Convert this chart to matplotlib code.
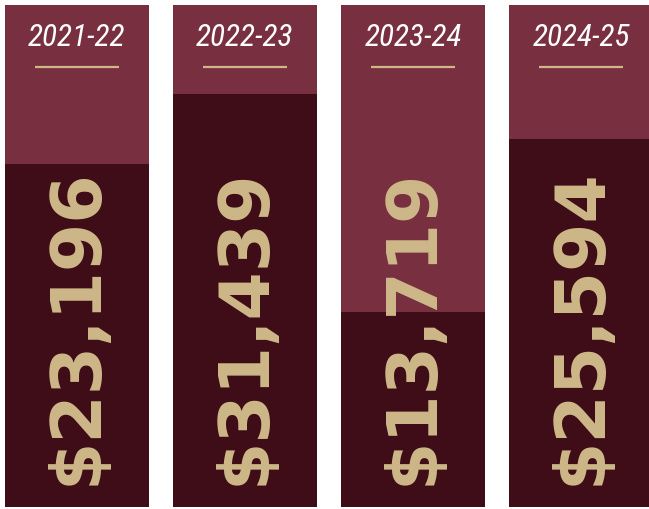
import matplotlib
matplotlib.use("Agg")
import matplotlib.pyplot as plt
from matplotlib import font_manager

# data
seasons = ["2021-22", "2022-23", "2023-24", "2024-25"]
amounts = [23196, 31439, 13719, 25594]
# filled share of each column (not proportional to the amounts)
fill_share = [0.683, 0.823, 0.388, 0.733]

garnet = "#782F40"
dark = "#3E0D17"
gold = "#CEB888"

# narrow font for the season labels, whichever is installed
names = {f.name for f in font_manager.fontManager.ttflist}
title_font, title_size = "Roboto", 19
for fam, size in [("Roboto Condensed", 22.5), ("Liberation Sans Narrow", 24),
                  ("DejaVu Sans Condensed", 19)]:
    if fam in names:
        title_font, title_size = fam, size
        break

fig = plt.figure(figsize=(6.49, 5.10), dpi=100)
ax = fig.add_axes([0, 0, 1, 1])

x = list(range(len(seasons)))
ax.bar(x, [1] * len(x), width=0.857, bottom=0, color=garnet, align="center")
ax.bar(x, fill_share, width=0.857, bottom=0, color=dark, align="center")

for i, (s, v) in enumerate(zip(seasons, amounts)):
    ax.text(i, 0.938, s, color="white", fontsize=title_size, style="italic",
            family=title_font, ha="center", va="center")
    ax.plot([i - 0.25, i + 0.25], [0.876, 0.876], color=gold, lw=1.6,
            solid_capstyle="butt")
    ax.text(i, 0.046, "${:,}".format(v), color=gold, fontsize=50,
            fontweight="heavy", family="DejaVu Sans", rotation=90,
            ha="center", va="bottom")

ax.set_xlim(-0.458, 3.405)
ax.set_ylim(-0.004, 1.012)
ax.axis("off")

fig.savefig("out.png", dpi=100, facecolor="white")
